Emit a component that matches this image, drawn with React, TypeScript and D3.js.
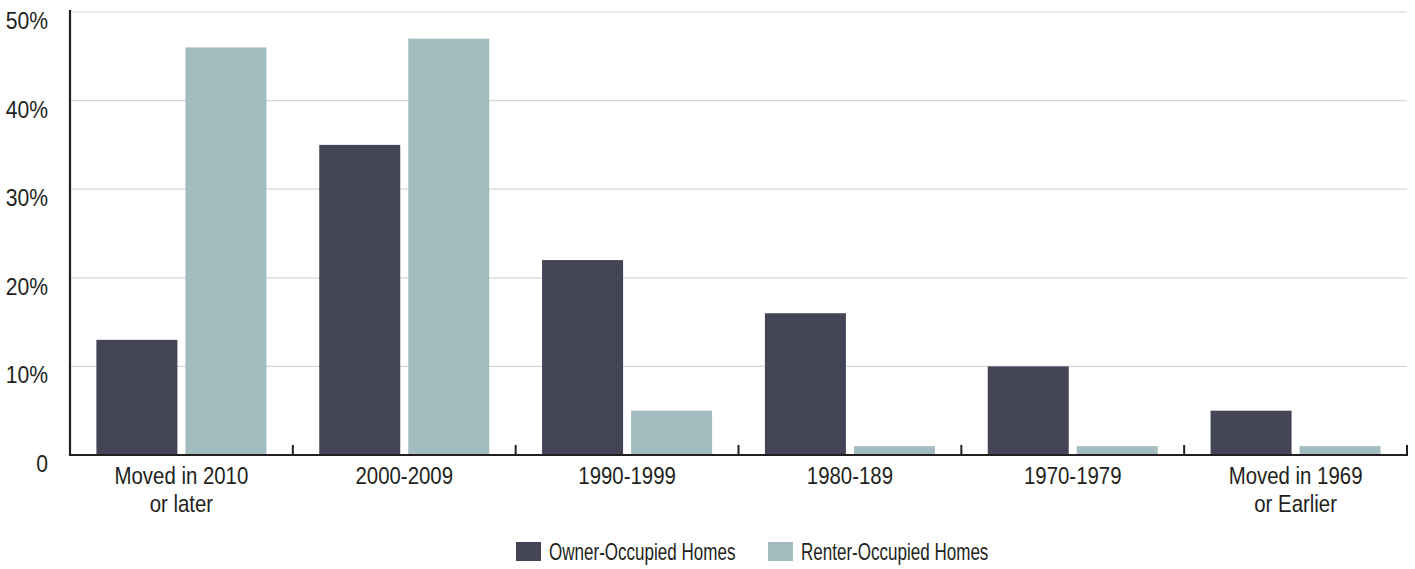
import React from "react";
import * as d3 from "d3";

const categories = ["Moved in 2010|or later", "2000-2009", "1990-1999", "1980-189", "1970-1979", "Moved in 1969|or Earlier"];
const seriesNames = ["Owner-Occupied Homes", "Renter-Occupied Homes"];
const ownerValues = [13, 35, 22, 16, 10, 5];
const renterValues = [46, 47, 5, 1, 1, 1];
const yTicks = [0, 10, 20, 30, 40, 50];
const colors = ["#434456", "#a2bcc0"];

const W = 1415;
const H = 569;
const FONT = "'Liberation Sans', Arial, sans-serif";
const TEXT = "#231f20";
const FS = 24;

function Label(props: { x: number; y: number; sx: number; anchor: "start" | "middle" | "end"; children: React.ReactNode }) {
  return (
    <text
      transform={`translate(${props.x},${props.y}) scale(${props.sx},1)`}
      textAnchor={props.anchor}
      fontFamily={FONT}
      fontSize={FS}
      fill={TEXT}
    >
      {props.children}
    </text>
  );
}

export default function App() {
  const left = 70, right = 1407, top = 12, bottom = 455;
  const x0 = d3.scaleBand<string>().domain(categories).range([left, right]).paddingInner(0.237).paddingOuter(0.1185);
  const x1 = d3.scaleBand<string>().domain(seriesNames).range([0, x0.bandwidth()]).paddingInner(0.09);
  const y = d3.scaleLinear().domain([0, 50]).range([bottom, top]);
  const series = [ownerValues, renterValues];
  const step = x0.step();
  const boundaries = d3.range(categories.length + 1).map((i) => left + i * step);

  return (
    <svg width={W} height={H} style={{ position: "absolute", left: 0, top: 0, background: "#fff" }}>
      {yTicks.filter((t) => t > 0).map((t) => (
        <line key={t} x1={left} x2={right} y1={y(t)} y2={y(t)} stroke="#d6d6d6" strokeWidth={1.2} />
      ))}
      {categories.map((c, i) =>
        series.map((vals, s) => (
          <rect
            key={c + s}
            x={(x0(c) as number) + (x1(seriesNames[s]) as number)}
            y={y(vals[i])}
            width={x1.bandwidth()}
            height={bottom - y(vals[i])}
            fill={colors[s]}
          />
        ))
      )}
      <line x1={left} x2={left} y1={top - 2} y2={bottom + 1} stroke={TEXT} strokeWidth={2.2} />
      <line x1={left - 1} x2={right + 1} y1={bottom} y2={bottom} stroke={TEXT} strokeWidth={2.2} />
      {boundaries.slice(1).map((bx, i) => (
        <line key={i} x1={bx} x2={bx} y1={bottom} y2={bottom - 10} stroke={TEXT} strokeWidth={2} />
      ))}
      {yTicks.map((t) => (
        <Label key={t} x={48} y={y(t) + 17} sx={0.88} anchor="end">
          {t === 0 ? "0" : `${t}%`}
        </Label>
      ))}
      {categories.map((c) => {
        const cx = (x0(c) as number) + x0.bandwidth() / 2;
        return c.split("|").map((line, k) => (
          <Label key={c + k} x={cx} y={484 + k * 28} sx={0.85} anchor="middle">
            {line}
          </Label>
        ));
      })}
      {seriesNames.map((n, s) => {
        const lx = s === 0 ? 516 : 768;
        return (
          <g key={n}>
            <rect x={lx} y={542} width={25} height={19} fill={colors[s]} />
            <Label x={lx + 33} y={560} sx={0.71} anchor="start">
              {n}
            </Label>
          </g>
        );
      })}
    </svg>
  );
}
